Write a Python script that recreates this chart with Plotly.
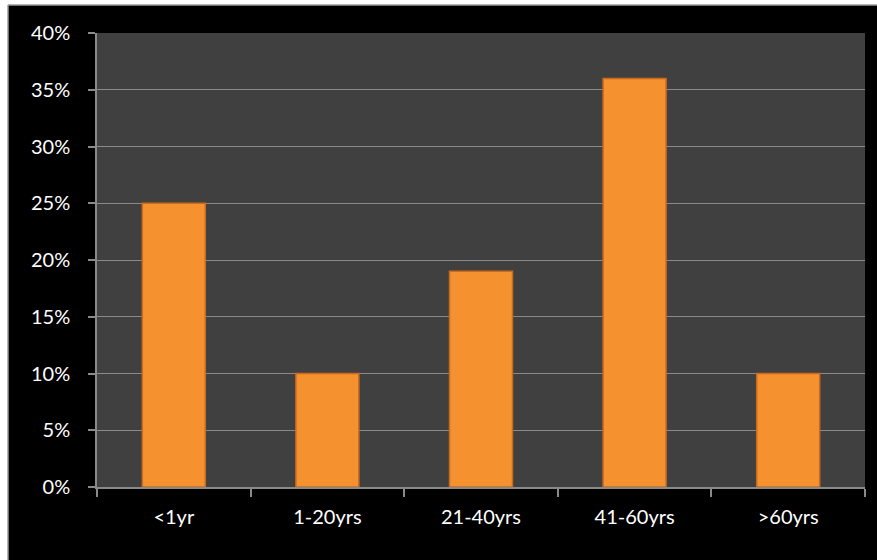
import plotly.graph_objects as go

categories = ["<1yr", "1-20yrs", "21-40yrs", "41-60yrs", ">60yrs"]
values = [0.25, 0.10, 0.19, 0.36, 0.10]
tick_vals = [0, 0.05, 0.10, 0.15, 0.20, 0.25, 0.30, 0.35, 0.40]
tick_text = ["0%", "5%", "10%", "15%", "20%", "25%", "30%", "35%", "40%"]

W, H = 877, 560
FONT = "Lato, 'Open Sans', sans-serif"
GRID = "#8a8a8a"

fig = go.Figure()
fig.add_trace(go.Bar(
    x=categories, y=values,
    marker=dict(color="#F5912E", line=dict(color="#C96A1F", width=1.5)),
    width=0.41,
    hoverinfo="skip",
))

fig.update_layout(
    width=W, height=H,
    margin=dict(l=97, r=12, t=33, b=73),
    paper_bgcolor="#000000",
    plot_bgcolor="#404040",
    showlegend=False,
    bargap=0.59,
    font=dict(family=FONT, color="#ffffff", size=20),
    shapes=[
        dict(type="rect", xref="paper", yref="paper",
             x0=-97 / 768, x1=-89 / 768, y0=-73 / 454, y1=(454 + 33) / 454,
             fillcolor="#ffffff", line=dict(width=0), layer="above"),
        dict(type="rect", xref="paper", yref="paper",
             x0=-97 / 768, x1=(768 + 12) / 768, y0=(454 + 28) / 454, y1=(454 + 33) / 454,
             fillcolor="#ffffff", line=dict(width=0), layer="above"),
        dict(type="line", xref="paper", yref="paper",
             x0=-89 / 768, x1=-89 / 768, y0=-73 / 454, y1=(454 + 28) / 454,
             line=dict(color="#9a9a9a", width=1.5), layer="above"),
        dict(type="line", xref="paper", yref="paper",
             x0=-89 / 768, x1=(768 + 12) / 768, y0=(454 + 28) / 454, y1=(454 + 28) / 454,
             line=dict(color="#9a9a9a", width=1.5), layer="above"),
    ],
)

fig.update_xaxes(
    type="category",
    showline=True, linecolor=GRID, linewidth=1.5,
    ticks="outside", tickson="boundaries", ticklen=8, tickcolor=GRID, tickwidth=1.5,
    showgrid=False,
    tickfont=dict(family=FONT, size=20, color="#ffffff"),
    ticklabelstandoff=11,
)
fig.update_yaxes(
    range=[0, 0.40],
    tickvals=tick_vals, ticktext=tick_text,
    showline=True, linecolor=GRID, linewidth=1.5,
    ticks="outside", ticklen=7, tickcolor=GRID, tickwidth=1.5,
    showgrid=True, gridcolor=GRID, gridwidth=1.2,
    zeroline=False,
    tickfont=dict(family=FONT, size=20, color="#ffffff"),
    ticklabelstandoff=14,
)

fig.write_html("out.html")
